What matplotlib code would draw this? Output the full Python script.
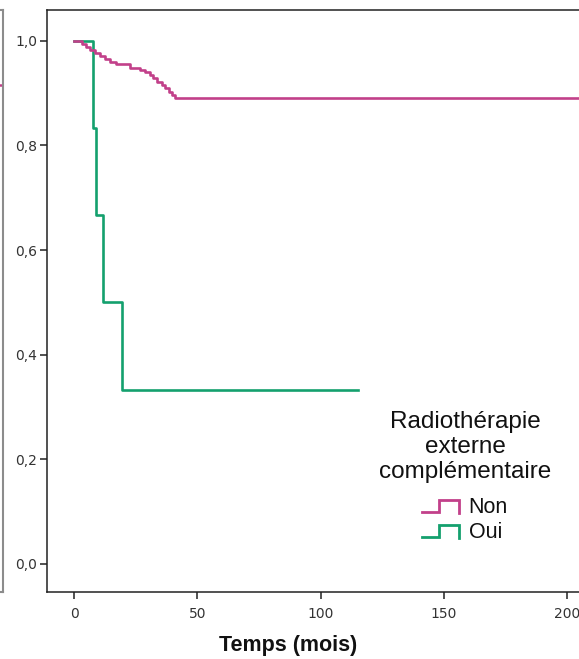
import numpy as np
import matplotlib
matplotlib.use("Agg")
import matplotlib.pyplot as plt
from matplotlib.lines import Line2D
from matplotlib.legend_handler import HandlerBase

# Kaplan-Meier steps
temps_non = [0, 3, 5, 6.5, 8.5, 10.5, 12.5, 14.5, 17, 22.5, 26.8, 28.8,
             30.8, 32, 33.5, 35.6, 37, 38.3, 39.6, 41, 215]
surv_non = [1.0, 0.994, 0.989, 0.983, 0.977, 0.971, 0.965, 0.960, 0.955,
            0.949, 0.945, 0.940, 0.935, 0.929, 0.922, 0.916, 0.909, 0.903,
            0.897, 0.891, 0.891]

temps_oui = [0, 7.5, 8.8, 11.7, 19.6, 115.3]
surv_oui = [1.0, 0.833, 0.667, 0.5, 0.333, 0.333]

# fragment of the neighbouring panel, cut at the left edge
voisin_x = [0, 215]
voisin_surv = [0.916, 0.916]

groupes = ["Non", "Oui"]
couleurs = {"Non": "#c2408a", "Oui": "#14a06e"}
xticks = [0, 50, 100, 150, 200]
yticks = [0.0, 0.2, 0.4, 0.6, 0.8, 1.0]
ytick_labels = ["0,0", "0,2", "0,4", "0,6", "0,8", "1,0"]
titre_legende = "Radiothérapie\nexterne\ncomplémentaire"


class StepHandler(HandlerBase):
    def create_artists(self, legend, orig_handle, xdescent, ydescent,
                       width, height, fontsize, trans):
        xs = np.array([0, 0.45, 0.45, 1.0, 1.0]) * width - xdescent
        ys = np.array([0.05, 0.05, 0.85, 0.85, 0.0]) * height - ydescent
        ln = Line2D(xs, ys, color=orig_handle.get_color(), lw=2.0,
                    solid_joinstyle="miter")
        ln.set_transform(trans)
        return [ln]


fig = plt.figure(figsize=(5.79, 6.59), dpi=100)
bottom = 67 / 659
height = 582 / 659

ax_left = fig.add_axes([-0.3, bottom, 0.3 + 3 / 579, height])
ax_left.plot(voisin_x, voisin_surv, color=couleurs["Non"], lw=1.8)
ax_left.set_xlim(-11, 215)
ax_left.set_ylim(-0.054, 1.059)
ax_left.set_xticks([])
ax_left.set_yticks([])
for sp in ax_left.spines.values():
    sp.set_color("#8c8c8c")
    sp.set_linewidth(1.5)

ax = fig.add_axes([47 / 579, bottom, 557 / 579, height])
ax.step(temps_oui, surv_oui, where="post", color=couleurs["Oui"], lw=1.9)
ax.step(temps_non, surv_non, where="post", color=couleurs["Non"], lw=1.9)
ax.set_xlim(-11, 215)
ax.set_ylim(-0.054, 1.059)
ax.set_xticks(xticks)
ax.set_yticks(yticks)
ax.set_yticklabels(ytick_labels)
ax.tick_params(direction="out", length=5, width=1.1, color="#222222",
               labelsize=10, labelcolor="#333333", pad=2)
ax.tick_params(axis="x", pad=6)
for sp in ax.spines.values():
    sp.set_color("#222222")
    sp.set_linewidth(1.1)

fig.text(288 / 579, 1 - 645 / 659, "Temps (mois)", ha="center", va="center",
         fontsize=15.5, fontweight="bold", family="Liberation Sans",
         color="#111111")

fig.text(465 / 579, 1 - 447 / 659, titre_legende, ha="center", va="center",
         multialignment="center", linespacing=1.17, fontsize=17.5,
         family="Liberation Sans", color="#111111")

handles = [Line2D([], [], color=couleurs[g]) for g in groupes]
leg = fig.legend(handles, groupes, handler_map={Line2D: StepHandler()},
                 loc="center", bbox_to_anchor=(465 / 579, 1 - 520 / 659),
                 frameon=False,
                 prop={"family": "Liberation Sans", "size": 15.5},
                 handlelength=1.7, handletextpad=0.45, labelspacing=0.2,
                 borderpad=0, borderaxespad=0)
for t in leg.get_texts():
    t.set_color("#111111")

fig.savefig("out.png", dpi=100)
